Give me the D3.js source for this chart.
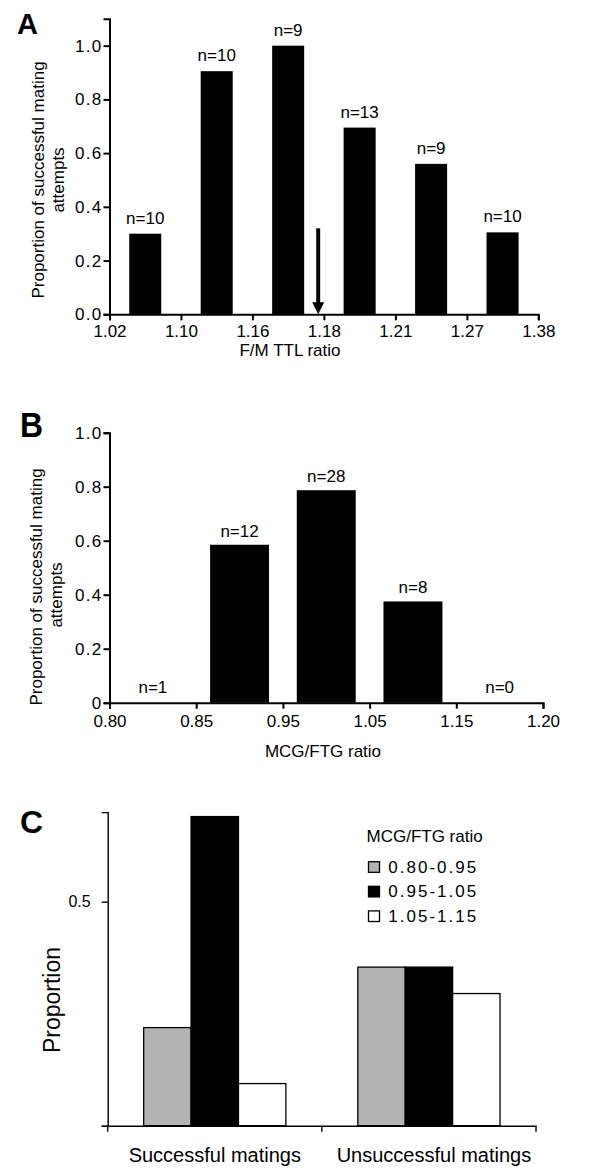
<!DOCTYPE html>
<html>
<head>
<meta charset="utf-8">
<script src="https://cdn.jsdelivr.net/npm/d3@7"></script>
<style>
  html, body { margin: 0; padding: 0; background: #fff; }
  svg { display: block; font-family: "Liberation Sans", Arial, sans-serif; }
</style>
</head>
<body>
<svg id="chart" width="600" height="1168"></svg>
<script>
// ---------- Panel A data ----------
const binLabelsA = ["1.02", "1.10", "1.16", "1.18", "1.21", "1.27", "1.38"];
const propA = [0.30, 0.905, 1.00, 0.695, 0.56, 0.305];
const nA = [10, 10, 9, 13, 9, 10];
const arrowBinPosA = 2.92;   // position of arrow along bin axis
const arrowTopA = 0.32;      // top of arrow in proportion units
const yTicksA = [0, 0.2, 0.4, 0.6, 0.8, 1.0];

// ---------- Panel B data ----------
const binLabelsB = ["0.80", "0.85", "0.95", "1.05", "1.15", "1.20"];
const propB = [0, 0.585, 0.787, 0.375, 0];
const nB = [1, 12, 28, 8, 0];
const yTicksB = [0, 0.2, 0.4, 0.6, 0.8, 1.0];

// ---------- Panel C data ----------
const groupsC = ["Successful matings", "Unsuccessful matings"];
const rangesC = ["0.80-0.95", "0.95-1.05", "1.05-1.15"];
const successfulC = [0.219, 0.69, 0.094];
const unsuccessfulC = [0.354, 0.354, 0.295];
const colorsC = ["#b3b3b3", "#000000", "#ffffff"];
const yTicksC = [0, 0.5];

const svg = d3.select("#chart");
const FONT = 17;

function styleAxis(g, sw) {
  g.selectAll("path.domain").attr("stroke", "#000").attr("stroke-width", sw);
  g.selectAll(".tick line").attr("stroke", "#000").attr("stroke-width", sw);
  g.selectAll(".tick text").attr("fill", "#000")
    .style("font-family", '"Liberation Sans", Arial, sans-serif');
}

// =============== Panel A ===============
{
  const xA = d3.scaleLinear().domain([0, 6]).range([109.5, 538.3]);
  const yA = d3.scaleLinear().domain([0, 1.1]).range([314.3, 18.8]);
  const g = svg.append("g");
  const bw = xA(0.448) - xA(0);

  g.selectAll("rect.bar").data(propA).join("rect")
    .attr("x", (d, i) => xA(i + 0.5) - bw / 2)
    .attr("y", d => yA(d))
    .attr("width", bw)
    .attr("height", d => yA(0) - yA(d))
    .attr("fill", "#000");

  g.selectAll("text.n").data(propA).join("text")
    .attr("x", (d, i) => xA(i + 0.5))
    .attr("y", d => yA(d) - 10)
    .attr("text-anchor", "middle")
    .attr("font-size", FONT)
    .text((d, i) => "n=" + nA[i]);

  // arrow
  const ax = xA(arrowBinPosA);
  const tipY = yA(0), headH = 12, headW = 12, stemW = 4;
  g.append("rect").attr("x", ax - stemW / 2).attr("y", yA(arrowTopA))
    .attr("width", stemW).attr("height", tipY - headH - yA(arrowTopA) + 1).attr("fill", "#000");
  g.append("path")
    .attr("d", `M${ax - headW / 2},${tipY - headH} L${ax + headW / 2},${tipY - headH} L${ax},${tipY} Z`)
    .attr("fill", "#000");

  const gx = g.append("g").attr("transform", `translate(0,${yA(0)})`)
    .call(d3.axisBottom(xA).tickValues(d3.range(7)).tickFormat(i => binLabelsA[i])
      .tickSizeOuter(0).tickSize(6).tickPadding(5));
  gx.selectAll(".tick text").attr("font-size", FONT);
  styleAxis(gx, 2);

  const gy = g.append("g").attr("transform", `translate(${xA(0)},0)`)
    .call(d3.axisLeft(yA).tickValues(yTicksA).tickFormat(d3.format(".1f"))
      .tickSizeOuter(0).tickSize(6).tickPadding(1));
  gy.selectAll(".tick text").attr("font-size", FONT).attr("letter-spacing", 1.3);
  styleAxis(gy, 2);

  g.append("text").attr("x", 290).attr("y", 356).attr("text-anchor", "middle")
    .attr("font-size", FONT).text("F/M TTL ratio");
  g.append("text").attr("transform", "translate(44,180) rotate(-90)").attr("text-anchor", "middle")
    .attr("font-size", FONT).text("Proportion of successful mating");
  g.append("text").attr("transform", "translate(63.5,180) rotate(-90)").attr("text-anchor", "middle")
    .attr("font-size", FONT).text("attempts");
  g.append("text").attr("x", 17).attr("y", 34).attr("font-size", 29)
    .attr("font-weight", "bold").text("A");
}

// =============== Panel B ===============
{
  const xB = d3.scaleLinear().domain([0, 5]).range([109.5, 543]);
  const yB = d3.scaleLinear().domain([0, 1]).range([702.7, 432.7]);
  const g = svg.append("g");
  const bw = xB(0.68) - xB(0);

  g.selectAll("rect.bar").data(propB).join("rect")
    .attr("x", (d, i) => xB(i + 0.5) - bw / 2)
    .attr("y", d => yB(d))
    .attr("width", bw)
    .attr("height", d => yB(0) - yB(d))
    .attr("fill", "#000");

  g.selectAll("text.n").data(propB).join("text")
    .attr("x", (d, i) => xB(i + 0.5))
    .attr("y", d => yB(d) - (d === 0 ? 10 : 8))
    .attr("text-anchor", "middle")
    .attr("font-size", FONT)
    .text((d, i) => "n=" + nB[i]);

  const gx = g.append("g").attr("transform", `translate(0,${yB(0)})`)
    .call(d3.axisBottom(xB).tickValues(d3.range(6)).tickFormat(i => binLabelsB[i])
      .tickSizeOuter(0).tickSize(6).tickPadding(6));
  gx.selectAll(".tick text").attr("font-size", FONT);
  styleAxis(gx, 2);

  const gy = g.append("g").attr("transform", `translate(${xB(0)},0)`)
    .call(d3.axisLeft(yB).tickValues(yTicksB).tickFormat(d => d === 0 ? "0" : d3.format(".1f")(d))
      .tickSizeOuter(0).tickSize(6).tickPadding(1));
  gy.selectAll(".tick text").attr("font-size", FONT).attr("letter-spacing", 1.3);
  styleAxis(gy, 2);

  g.append("text").attr("x", 323).attr("y", 756.5).attr("text-anchor", "middle")
    .attr("font-size", FONT).text("MCG/FTG ratio");
  g.append("text").attr("transform", "translate(41.5,587) rotate(-90)").attr("text-anchor", "middle")
    .attr("font-size", FONT).text("Proportion of successful mating");
  g.append("text").attr("transform", "translate(62,595) rotate(-90)").attr("text-anchor", "middle")
    .attr("font-size", FONT).text("attempts");
  g.append("text").attr("x", 20).attr("y", 437).attr("font-size", 35)
    .attr("font-weight", "bold").attr("textLength", 23).attr("lengthAdjust", "spacingAndGlyphs").text("B");
}

// =============== Panel C ===============
{
  const xC = d3.scaleBand().domain(groupsC).range([107.7, 536]).padding(0);
  const yC = d3.scaleLinear().domain([0, 0.7]).range([1125.7, 812.1]);
  const groupW = xC.bandwidth() * 0.664;
  const xInner = d3.scaleBand().domain(rangesC).range([0, groupW]).padding(0);
  const g = svg.append("g");
  const valuesC = [successfulC, unsuccessfulC];

  groupsC.forEach((grp, gi) => {
    const x0 = xC(grp) + (xC.bandwidth() - groupW) / 2;
    g.selectAll(null).data(valuesC[gi]).join("rect")
      .attr("x", (d, i) => x0 + xInner(rangesC[i]))
      .attr("y", d => yC(d))
      .attr("width", xInner.bandwidth())
      .attr("height", d => yC(0) - yC(d))
      .attr("fill", (d, i) => colorsC[i])
      .attr("stroke", "#000")
      .attr("stroke-width", 1.3);
  });

  const gx = g.append("g").attr("transform", `translate(0,${yC(0)})`)
    .call(d3.axisBottom(xC).tickSizeOuter(0).tickSize(0).tickPadding(0).tickFormat(() => ""));
  styleAxis(gx, 1.4);
  // boundary ticks on x axis
  const bounds = [xC(groupsC[0]), xC(groupsC[1]), xC(groupsC[1]) + xC.bandwidth()];
  g.selectAll(null).data(bounds).join("line")
    .attr("x1", d => d).attr("x2", d => d)
    .attr("y1", yC(0)).attr("y2", yC(0) + 6)
    .attr("stroke", "#000").attr("stroke-width", 1.4);
  g.selectAll(null).data(groupsC).join("text")
    .attr("x", (d, i) => xC(d) + xC.bandwidth() / 2 + (i === 1 ? 5 : 0))
    .attr("y", 1161.5)
    .attr("text-anchor", "middle")
    .attr("font-size", 20)
    .text(d => d);

  const gy = g.append("g").attr("transform", `translate(${xC.range()[0]},0)`)
    .call(d3.axisLeft(yC).tickValues(yTicksC).tickFormat(d => d === 0 ? "" : String(d))
      .tickSizeOuter(0).tickSize(6).tickPadding(11));
  gy.selectAll(".tick text").attr("font-size", 16);
  styleAxis(gy, 1.4);

  g.append("text").attr("transform", "translate(60,1000) rotate(-90)").attr("text-anchor", "middle")
    .attr("font-size", 23).text("Proportion");
  g.append("text").attr("x", 20).attr("y", 832.5).attr("font-size", 32)
    .attr("font-weight", "bold").text("C");

  // legend
  const lg = g.append("g");
  lg.append("text").attr("x", 366.5).attr("y", 841.5).attr("font-size", 17).text("MCG/FTG ratio");
  rangesC.forEach((r, i) => {
    const yy = 867 + i * 24.6;
    lg.append("rect").attr("x", 368.5).attr("y", yy - 5.3).attr("width", 11).attr("height", 10.6)
      .attr("fill", colorsC[i]).attr("stroke", "#000").attr("stroke-width", 1.3);
    lg.append("text").attr("x", 388.3).attr("y", yy + 5.5).attr("font-size", 17)
      .attr("letter-spacing", 2).text(r);
  });
}
</script>
</body>
</html>
